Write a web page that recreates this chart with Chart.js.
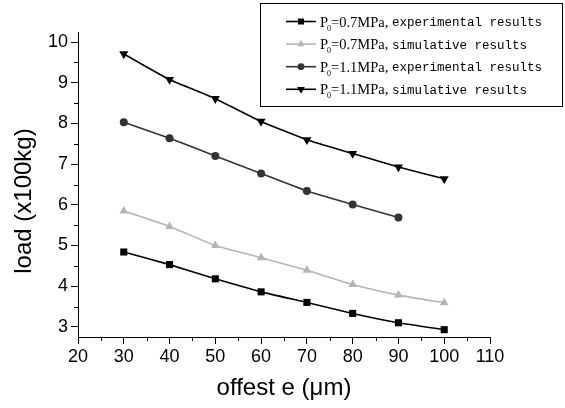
<!DOCTYPE html>
<html>
<head>
<meta charset="utf-8">
<script src="https://cdn.jsdelivr.net/npm/chart.js@4/dist/chart.umd.min.js"></script>
<style>
  html,body{margin:0;padding:0;background:#fff;}
  canvas{display:block;}
</style>
</head>
<body>
<canvas id="chart" width="565" height="408"></canvas>
<script>
// data
const offsets=[30,40,50,60,70,80,90,100];
const exp07=[4.84,4.53,4.18,3.86,3.60,3.33,3.10,2.93];
const sim07=[5.85,5.47,5.00,4.70,4.39,4.04,3.78,3.59];
const exp11=[8.03,7.64,7.20,6.77,6.34,6.01,5.69];
const sim11=[9.71,9.08,8.61,8.05,7.60,7.26,6.93,6.64];
const yTicks=[3,4,5,6,7,8,9,10];
const xTicks=[20,30,40,50,60,70,80,90,100,110];
const legendPressure=["=0.7MPa,","=0.7MPa,","=1.1MPa,","=1.1MPa,"];
const legendKind=["experimental results","simulative results","experimental results","simulative results"];

const pts=ys=>ys.map((y,i)=>({x:offsets[i],y:y}));

const series=[
  {data:pts(exp07),color:"#000000",style:"rect",r:5,rot:0},
  {data:pts(sim07),color:"#b4b4b4",style:"triangle",r:5,rot:0},
  {data:pts(exp11),color:"#333333",style:"circle",r:4,rot:0},
  {data:pts(sim11),color:"#000000",style:"triangle",r:5.2,rot:180}
];

function mark(ctx,style,x,y,r,rot,color){
  ctx.save();
  ctx.fillStyle=color; ctx.strokeStyle=color;
  ctx.beginPath();
  if(style==="rect"){
    const s=r*Math.SQRT1_2; ctx.rect(x-s,y-s,2*s,2*s);
  }else if(style==="circle"){
    ctx.arc(x,y,r,0,Math.PI*2);
  }else{
    const d=rot?-1:1;
    ctx.moveTo(x,y-d*r);
    ctx.lineTo(x+r*0.866,y+d*r*0.5);
    ctx.lineTo(x-r*0.866,y+d*r*0.5);
    ctx.closePath();
  }
  ctx.fill();
  ctx.restore();
}

const extras={
  id:"extras",
  afterDraw(chart){
    const ctx=chart.ctx, xs=chart.scales.x, ys=chart.scales.y;
    ctx.save();
    // minor ticks
    ctx.strokeStyle="#000"; ctx.lineWidth=1;
    for(let v=25;v<110;v+=10){
      const px=Math.round(xs.getPixelForValue(v))+0.5;
      ctx.beginPath(); ctx.moveTo(px,xs.top); ctx.lineTo(px,xs.top+4); ctx.stroke();
    }
    for(let v=3.5;v<10.25;v+=1){
      const py=Math.round(ys.getPixelForValue(v))+0.5;
      ctx.beginPath(); ctx.moveTo(ys.right,py); ctx.lineTo(ys.right-4,py); ctx.stroke();
    }
    // axis titles
    ctx.fillStyle="#000";
    ctx.font="24px 'Liberation Sans', Arial, sans-serif";
    ctx.textAlign="center"; ctx.textBaseline="middle";
    ctx.fillText("offest e (\u03bcm)",284,388);
    ctx.save();
    ctx.translate(24,201); ctx.rotate(-Math.PI/2);
    ctx.fillText("load (x100kg)",0,0);
    ctx.restore();
    // legend
    ctx.lineWidth=1; ctx.strokeStyle="#000";
    ctx.strokeRect(260.5,3.5,302,103);
    ctx.textAlign="left"; ctx.textBaseline="alphabetic";
    series.forEach((s,i)=>{
      const cy=21.5+i*22.6;
      ctx.strokeStyle=s.color; ctx.lineWidth=1.6;
      ctx.beginPath(); ctx.moveTo(286,cy); ctx.lineTo(316,cy); ctx.stroke();
      mark(ctx,s.style,301,cy,s.r*0.85,s.rot,s.color);
      ctx.fillStyle="#000";
      ctx.font="14.5px 'Liberation Serif', 'Times New Roman', serif";
      ctx.fillText("P",320,cy+5);
      const pw=ctx.measureText("P").width;
      ctx.font="8px 'Liberation Serif', serif";
      ctx.fillText("0",320+pw-1,cy+9);
      ctx.font="14.5px 'Liberation Serif', 'Times New Roman', serif";
      ctx.fillText(legendPressure[i],320+pw+3,cy+5);
      ctx.font="12.5px 'Liberation Mono', 'DejaVu Sans Mono', monospace";
      ctx.fillText(legendKind[i],392,cy+4.5);
    });
    ctx.restore();
  }
};

const bg={id:"bg",beforeDraw(chart){const c=chart.ctx;c.save();c.fillStyle="#fff";c.fillRect(0,0,chart.width,chart.height);c.restore();}};

new Chart(document.getElementById("chart"),{
  type:"line",
  data:{datasets:series.map(s=>({
    data:s.data,
    borderColor:s.color,
    backgroundColor:s.color,
    borderWidth:1.6,
    pointStyle:s.style,
    pointRadius:s.r,
    pointRotation:s.rot,
    pointBorderWidth:0,
    tension:0.15,
    fill:false
  }))},
  options:{
    responsive:false,
    animation:false,
    devicePixelRatio:1,
    layout:{padding:{left:0,top:32,right:75,bottom:0}},
    plugins:{legend:{display:false},tooltip:{enabled:false}},
    scales:{
      x:{
        type:"linear",min:20,max:110,
        afterBuildTicks:sc=>{sc.ticks=xTicks.map(v=>({value:v}));},
        afterFit:sc=>{sc.height=71;},
        grid:{drawOnChartArea:false,drawTicks:true,tickLength:7,color:"#000"},
        border:{display:true,color:"#000",width:1},
        ticks:{color:"#000",padding:2,maxRotation:0,font:{family:"'Liberation Sans', Arial, sans-serif",size:18}}
      },
      y:{
        type:"linear",min:2.75,max:10.25,
        afterBuildTicks:sc=>{sc.ticks=yTicks.map(v=>({value:v}));},
        afterFit:sc=>{sc.width=78;},
        grid:{drawOnChartArea:false,drawTicks:true,tickLength:7,color:"#000"},
        border:{display:true,color:"#000",width:1},
        ticks:{color:"#000",padding:3,font:{family:"'Liberation Sans', Arial, sans-serif",size:18}}
      }
    }
  },
  plugins:[bg,extras]
});
</script>
</body>
</html>
